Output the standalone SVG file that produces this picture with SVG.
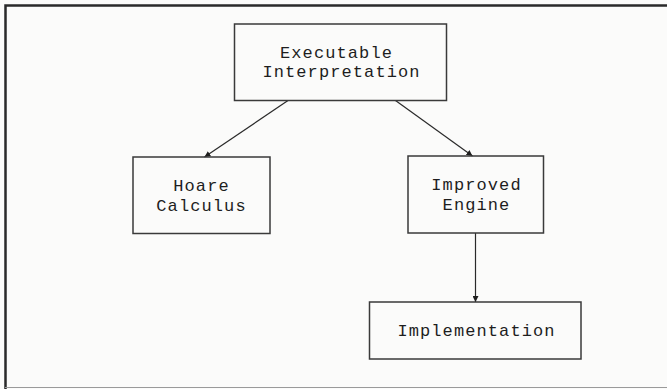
<svg xmlns="http://www.w3.org/2000/svg" width="667" height="389" viewBox="0 0 667 389">
  <style>
    .box { fill: none; stroke: #3a3a3a; stroke-width: 1.5; }
    .lbl { font-family: "Liberation Mono", "Courier New", monospace; font-size: 17px; letter-spacing: 1.1px; fill: #1e1e1e; text-anchor: middle; }
    .edge { stroke: #2a2a2a; stroke-width: 1.2; fill: none; marker-end: url(#arr); }
  </style>
  <defs>
    <marker id="arr" viewBox="0 0 10 10" refX="10" refY="5" markerWidth="6" markerHeight="6" markerUnits="userSpaceOnUse" orient="auto">
      <path d="M0,0 L10,5 L0,10 z" fill="#1e1e1e"/>
    </marker>
  </defs>
  <rect x="0" y="0" width="667" height="389" fill="#fbfbfa"/>
  <g id="frame">
    <path d="M667,5.5 H5.5 V389" fill="none" stroke="#2a2a2a" stroke-width="2.5"/>
    <line x1="5" y1="387.5" x2="667" y2="387.5" stroke="#9a9a9a" stroke-width="1"/>
  </g>
  <g id="connectors">
    <line class="edge" x1="288" y1="100.5" x2="204.5" y2="157"/>
    <line class="edge" x1="395.5" y1="100.5" x2="472.5" y2="156"/>
    <line class="edge" x1="475.5" y1="233" x2="475.5" y2="302"/>
  </g>
  <g id="executable">
    <rect class="box" x="234.5" y="24" width="212" height="76.5"/>
    <text class="lbl" x="336.5" y="57.5">Executable</text>
    <text class="lbl" x="341.5" y="77">Interpretation</text>
  </g>
  <g id="hoare">
    <rect class="box" x="133" y="157" width="137" height="76.5"/>
    <text class="lbl" x="201.5" y="191">Hoare</text>
    <text class="lbl" x="201.5" y="210.5">Calculus</text>
  </g>
  <g id="improved">
    <rect class="box" x="408" y="156" width="135.5" height="77"/>
    <text class="lbl" x="476.5" y="190">Improved</text>
    <text class="lbl" x="476.5" y="209.5">Engine</text>
  </g>
  <g id="implementation">
    <rect class="box" x="369.5" y="302" width="211.5" height="57"/>
    <text class="lbl" x="476.5" y="336">Implementation</text>
  </g>
</svg>
